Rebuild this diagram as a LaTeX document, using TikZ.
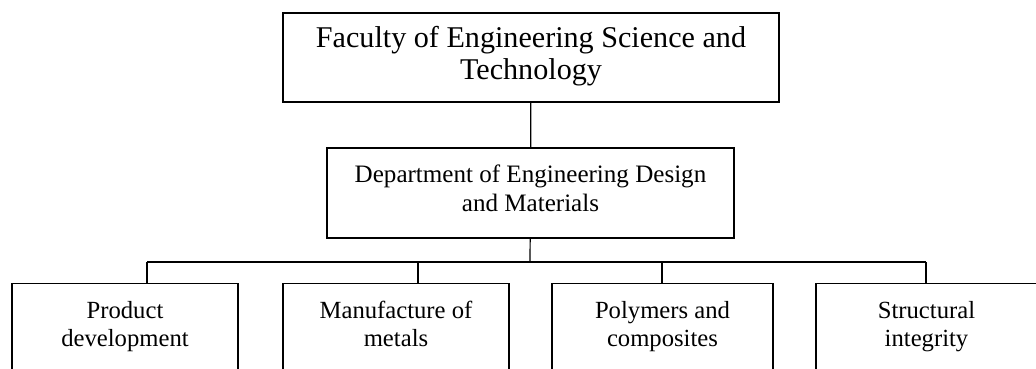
\documentclass[tikz,border=0pt]{standalone}
\usepackage{fontspec}
\setmainfont{Liberation Serif}

\begin{document}
\begin{tikzpicture}[x=0.75pt, y=-0.75pt,
  unit/.style={draw, line width=1.1pt, inner sep=0pt, align=center,
    execute at begin node=\strut, execute at end node=\strut},
  group/.style={unit, minimum width=169.5pt, minimum height=66pt, anchor=north,
    font=\fontsize{18.5}{21}\selectfont},
  link/.style={line width=0.9pt}]
  \useasboundingbox (0,0) rectangle (1036,368);

  \node[unit, minimum width=372pt, minimum height=66.75pt,
    font=\fontsize{22.6}{23.7}\selectfont] (fac) at (531,57.5)
    {Faculty of Engineering Science and\\Technology};
  \node[unit, minimum width=305.25pt, minimum height=67.5pt,
    font=\fontsize{18.8}{21.75}\selectfont] (dept) at (530.5,193)
    {Department of Engineering Design\\and Materials};

  \node[group] (prod) at (125,283) {Product\\development};
  \node[group] (manu) at (396,283) {Manufacture of\\metals};
  \node[group, minimum width=165.75pt] (poly) at (662.5,283) {Polymers and\\composites};
  \node[group, minimum width=165.75pt] (struc) at (926.5,283) {Structural\\integrity};

  \coordinate (bus) at (530,262);
  \coordinate (b1) at (147,262);
  \coordinate (b2) at (418,262);
  \coordinate (b3) at (662,262);
  \coordinate (b4) at (926,262);

  \draw[link] (fac) -- (dept);
  \draw[link] (dept) -- (bus);
  \draw[link] (b1) -- (b4);
  \draw[link] (b1) -- (b1 |- prod.north);
  \draw[link] (b2) -- (b2 |- manu.north);
  \draw[link] (b3) -- (b3 |- poly.north);
  \draw[link] (b4) -- (b4 |- struc.north);
\end{tikzpicture}
\end{document}
